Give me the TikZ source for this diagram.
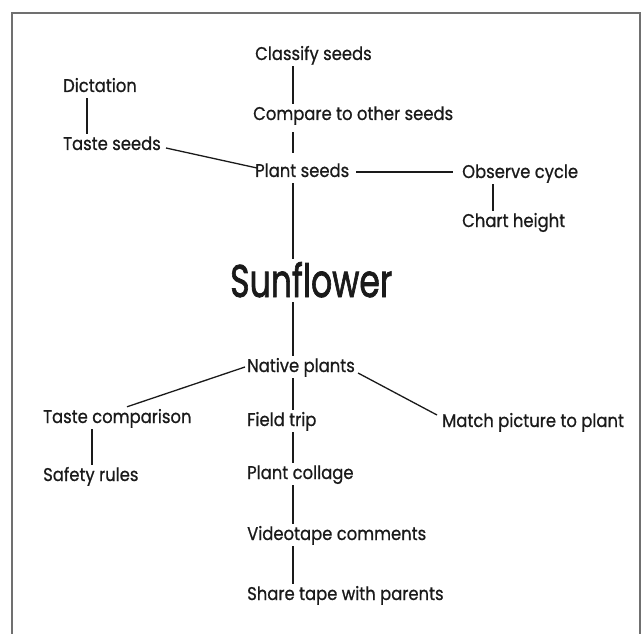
\documentclass[tikz,border=0pt]{standalone}
\usepackage{fontspec}
\setmainfont{Poppins}[FakeStretch=0.89, FakeBold=0.8]
\newfontfamily\bigfont{Poppins}[FakeBold=1.8]
\definecolor{ink}{HTML}{1A1A1A}
\definecolor{framegray}{HTML}{707070}
\begin{document}
\begin{tikzpicture}[x=1bp,y=-1bp,
  lbl/.style={inner xsep=0bp, inner ysep=3bp, anchor=base west, text=ink,
    font=\fontsize{18.5}{22}\selectfont, text height=13bp, text depth=3bp},
  big/.style={inner xsep=0bp, inner ysep=3bp, anchor=base west, text=ink,
    text height=35bp, text depth=2bp},
  link/.style={draw=ink, line width=1.3bp},
  frameline/.style={draw=framegray, line width=1.5bp}]
\useasboundingbox (0,0) rectangle (643,634);
\draw[frameline] (12,640) -- (12,13) -- (640,13) -- (640,640);
% spine coordinates
\coordinate (sp) at (293,0);
\coordinate (dx) at (87,0);
\coordinate (tx) at (92,0);
\coordinate (ox) at (493,0);
% nodes
\node[lbl] (cls) at (255,60) {Classify seeds};
\node[lbl] (cmp) at (253,120) {Compare to other seeds};
\node[lbl] (dic) at (63,92) {Dictation};
\node[lbl] (tse) at (63,150) {Taste seeds};
\node[lbl] (pls) at (255,177) {Plant seeds};
\node[lbl] (obs) at (462,178) {Observe cycle};
\node[lbl] (cht) at (462,227) {Chart height};
\node[big] (sun) at (230,297) {\resizebox{162bp}{35bp}{\bigfont Sunflower}};
\node[lbl] (nat) at (247,372) {Native plants};
\node[lbl] (tco) at (43,423) {Taste comparison};
\node[lbl] (fld) at (247,426) {Field trip};
\node[lbl] (mat) at (442,427) {Match picture to plant};
\node[lbl] (saf) at (43,481) {Safety rules};
\node[lbl] (col) at (247,479) {Plant collage};
\node[lbl] (vid) at (247,540) {Videotape comments};
\node[lbl] (sha) at (247,600) {Share tape with parents};
% connectors
\draw[link] (cls.south -| sp) -- (cmp.north -| sp);
\draw[link, shorten <=6bp, shorten >=8bp] (cmp.south -| sp) -- (pls.north -| sp);
\draw[link] (pls.south -| sp) -- (sun.north -| sp);
\draw[link] (sun.south -| sp) -- (nat.north -| sp);
\draw[link] (nat.south -| sp) -- (fld.north -| sp);
\draw[link] (fld.south -| sp) -- (col.north -| sp);
\draw[link] (col.south -| sp) -- (vid.north -| sp);
\draw[link] (vid.south -| sp) -- (sha.north -| sp);
\draw[link] (dic.south -| dx) -- (tse.north -| dx);
\draw[link] (tco.south -| tx) -- (saf.north -| tx);
\draw[link] (obs.south -| ox) -- (cht.north -| ox);
\draw[link] ([xshift=5bp,yshift=-3bp]tse.east) -- ([xshift=2bp,yshift=4bp]pls.west);
\draw[link] ([xshift=7bp]pls.east) -- ([xshift=-9bp]pls.east -| obs.west);
\draw[link] ([xshift=-2bp]nat.west) -- ([xshift=84bp]tco.north west);
\draw[link] ([xshift=3bp,yshift=-6bp]nat.east) -- ([xshift=-5bp,yshift=7bp]mat.west);
\end{tikzpicture}
\end{document}
